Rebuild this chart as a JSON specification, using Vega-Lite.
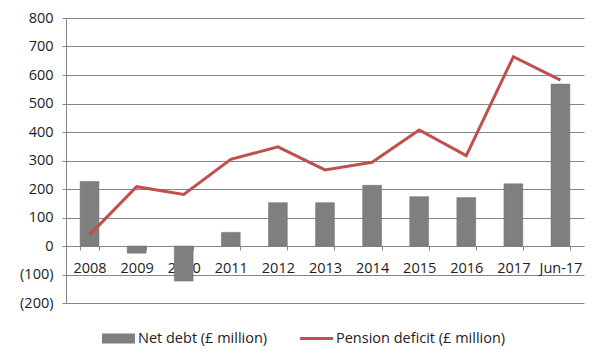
{
  "$schema": "https://vega.github.io/schema/vega-lite/v6.json",
  "autosize": "none",
  "width": 518,
  "height": 285,
  "padding": {"left": 66, "top": 18, "right": 20, "bottom": 61},
  "background": "white",
  "config": {
    "font": "Open Sans",
    "view": {"stroke": null},
    "axis": {"labelFont": "Open Sans", "labelFontSize": 14.5, "labelColor": "#222", "domainColor": "#868686", "tickColor": "#868686", "gridColor": "#868686", "gridWidth": 1, "domainWidth": 1, "tickSize": 4}
  },
  "data": {
    "values": [
      {"year": "2008", "series": "Net debt (£ million)", "value": 226},
      {"year": "2009", "series": "Net debt (£ million)", "value": -25},
      {"year": "2010", "series": "Net debt (£ million)", "value": -123},
      {"year": "2011", "series": "Net debt (£ million)", "value": 48},
      {"year": "2012", "series": "Net debt (£ million)", "value": 152},
      {"year": "2013", "series": "Net debt (£ million)", "value": 152},
      {"year": "2014", "series": "Net debt (£ million)", "value": 213},
      {"year": "2015", "series": "Net debt (£ million)", "value": 173},
      {"year": "2016", "series": "Net debt (£ million)", "value": 170},
      {"year": "2017", "series": "Net debt (£ million)", "value": 218},
      {"year": "Jun-17", "series": "Net debt (£ million)", "value": 568},
      {"year": "2008", "series": "Pension deficit (£ million)", "value": 39},
      {"year": "2009", "series": "Pension deficit (£ million)", "value": 208},
      {"year": "2010", "series": "Pension deficit (£ million)", "value": 181},
      {"year": "2011", "series": "Pension deficit (£ million)", "value": 304},
      {"year": "2012", "series": "Pension deficit (£ million)", "value": 348},
      {"year": "2013", "series": "Pension deficit (£ million)", "value": 267},
      {"year": "2014", "series": "Pension deficit (£ million)", "value": 294},
      {"year": "2015", "series": "Pension deficit (£ million)", "value": 407},
      {"year": "2016", "series": "Pension deficit (£ million)", "value": 317},
      {"year": "2017", "series": "Pension deficit (£ million)", "value": 664},
      {"year": "Jun-17", "series": "Pension deficit (£ million)", "value": 582}
    ]
  },
  "encoding": {
    "x": {
      "field": "year", "type": "nominal", "sort": null,
      "scale": {"paddingInner": 0.6, "paddingOuter": 0.3},
      "axis": {"title": null, "labelAngle": 0, "offset": -57, "tickBand": "extent", "labelPadding": 11, "grid": false}
    },
    "y": {
      "field": "value", "type": "quantitative",
      "scale": {"domain": [-200, 800], "nice": false, "zero": false},
      "axis": {"title": null, "values": [-200, -100, 0, 100, 200, 300, 400, 500, 600, 700, 800], "labelExpr": "datum.value < 0 ? '(' + format(-datum.value, 'd') + ')' : datum.label", "labelPadding": 9, "grid": true}
    },
    "color": {
      "field": "series", "type": "nominal",
      "scale": {"domain": ["Net debt (£ million)", "Pension deficit (£ million)"], "range": ["#7f7f7f", "#c0504d"]},
      "legend": {
        "orient": "none", "legendX": 36, "legendY": 304, "direction": "horizontal", "title": null,
        "labelFont": "Open Sans", "labelFontSize": 14.5, "labelColor": "#222", "labelLimit": 400,
        "symbolSize": 1089, "symbolStrokeWidth": 0, "symbolOpacity": 1,
        "symbolType": "M-1,-0.3H1V0.3H-1Z",
        "columnPadding": 32, "labelOffset": 3,
        "encode": {"symbols": {"update": {
          "shape": {"signal": "datum.value === 'Net debt (£ million)' ? 'M-1,-0.3H1V0.3H-1Z' : 'M-1,-0.09H1V0.09H-1Z'"},
          "fill": {"signal": "datum.value === 'Net debt (£ million)' ? '#7f7f7f' : '#c0504d'"},
          "strokeWidth": {"value": 0}
        }}}
      }
    }
  },
  "layer": [
    {
      "transform": [{"filter": "datum.series === 'Net debt (£ million)'"}],
      "mark": {"type": "bar", "stroke": "#6f6f6f", "strokeWidth": 0.5}
    },
    {
      "transform": [{"filter": "datum.series === 'Pension deficit (£ million)'"}],
      "mark": {"type": "line", "strokeWidth": 3}
    }
  ]
}
